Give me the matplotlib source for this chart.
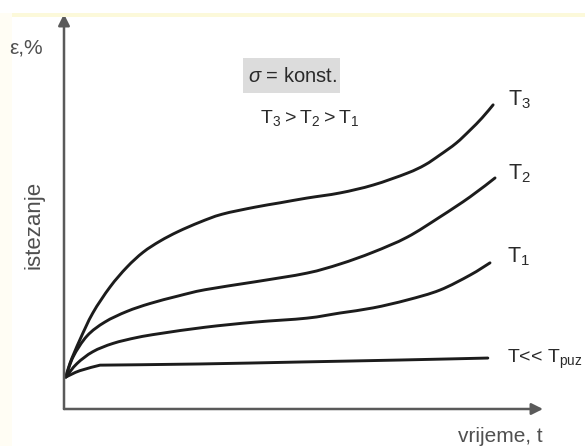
import matplotlib
matplotlib.use("Agg")
import matplotlib.pyplot as plt
from matplotlib.patches import Rectangle, PathPatch
from matplotlib.path import Path

plt.rcParams['font.family'] = ['Liberation Sans', 'DejaVu Sans']
plt.rcParams['mathtext.fontset'] = 'custom'
plt.rcParams['mathtext.rm'] = 'Liberation Sans'
plt.rcParams['mathtext.it'] = 'Liberation Sans:italic'

# ---- data (time t, strain eps) ----
t_low = [0.04, 0.33, 0.75, 2.83, 4.92, 7.0, 8.83]
eps_low = [0.81, 0.97, 1.11, 1.14, 1.19, 1.24, 1.29]

t_T1 = [0.04, 0.27, 0.60, 1.02, 1.52, 2.0, 2.94, 3.98, 5.06, 5.75, 6.44, 7.15, 7.83, 8.46, 8.875]
eps_T1 = [0.81, 1.15, 1.45, 1.66, 1.81, 1.91, 2.07, 2.20, 2.30, 2.43, 2.56, 2.76, 3.01, 3.39, 3.70]

t_T2 = [0.04, 0.19, 0.48, 0.85, 1.31, 1.79, 2.375, 2.94, 3.98, 5.06, 5.75, 6.44, 7.15,
        7.83, 8.46, 8.98]
eps_T2 = [0.81, 1.32, 1.85, 2.20, 2.47, 2.67, 2.86, 3.02, 3.22, 3.44, 3.67, 3.97, 4.35,
          4.86, 5.37, 5.85]

t_T3 = [0.04, 0.125, 0.33, 0.60, 0.96, 1.31, 1.65, 2.0, 2.375, 2.83, 3.29, 3.98, 4.5, 5.06,
        5.75, 6.44, 7.15, 7.52, 7.83, 8.17, 8.46, 8.71, 8.94]
eps_T3 = [0.81, 1.16, 1.75, 2.43, 3.09, 3.59, 3.97, 4.25, 4.49, 4.73, 4.93, 5.11, 5.22, 5.34,
          5.47, 5.67, 5.97, 6.18, 6.43, 6.73, 7.06, 7.37, 7.70]

curve_labels = ["T$_3$", "T$_2$", "T$_1$", r"T<< T$_{\mathrm{puz}}$"]


def smooth_path(xs, ys, corner=None):
    """Catmull-Rom curve through the given data points, as cubic Bezier segments."""
    pts = list(zip(xs, ys))
    verts = [pts[0]]
    codes = [Path.MOVETO]
    n = len(pts)
    for i in range(n - 1):
        p0 = pts[i - 1] if i > 0 else pts[i]
        p1, p2 = pts[i], pts[i + 1]
        p3 = pts[i + 2] if i + 2 < n else pts[i + 1]
        if corner is not None and i + 1 == corner:
            p3 = p2
        if corner is not None and i == corner:
            p0 = p1
        c1 = (p1[0] + (p2[0] - p0[0]) / 6, p1[1] + (p2[1] - p0[1]) / 6)
        c2 = (p2[0] - (p3[0] - p1[0]) / 6, p2[1] - (p3[1] - p1[1]) / 6)
        verts += [c1, c2, p2]
        codes += [Path.CURVE4] * 3
    return Path(verts, codes)


W, H = 585, 446
fig = plt.figure(figsize=(W / 100, H / 100), dpi=100)
fig.patch.set_facecolor('white')

# faint cream frame of the scanned figure
fig.add_artist(Rectangle((12 / W, 1 - 17 / H), 1, 4 / H, transform=fig.transFigure,
                         facecolor='#fcf9da', edgecolor='none'))
fig.add_artist(Rectangle((0, 0), 12 / W, 1 - 13 / H, transform=fig.transFigure,
                         facecolor='#fffdf4', edgecolor='none'))

x0, x1, y0, y1 = 64, 543, 409, 14
ax = fig.add_axes([x0 / W, 1 - y0 / H, (x1 - x0) / W, (y0 - y1) / H])
ax.set_xlim(0, (x1 - x0) / 48)
ax.set_ylim(0, (y0 - y1) / 39.5)
ax.axis('off')

axis_col = '#5a5a5a'
ax.annotate('', xy=(0, 1), xytext=(0, 0), xycoords='axes fraction',
            arrowprops=dict(arrowstyle='-|>', color=axis_col, lw=1.8,
                            mutation_scale=17, shrinkA=0, shrinkB=0))
ax.annotate('', xy=(1, 0), xytext=(0, 0), xycoords='axes fraction',
            arrowprops=dict(arrowstyle='-|>', color=axis_col, lw=1.8,
                            mutation_scale=17, shrinkA=0, shrinkB=0))

lc = '#1c1c1c'
for tt, ee, corner in [(t_low, eps_low, 2), (t_T1, eps_T1, None), (t_T2, eps_T2, None),
                       (t_T3, eps_T3, None)]:
    ax.add_patch(PathPatch(smooth_path(tt, ee, corner), facecolor='none', edgecolor=lc,
                           lw=2.1, capstyle='round', joinstyle='round', clip_on=False))

tc = '#2a2a2a'
ax.text(9.25, 7.82, curve_labels[0], fontsize=15.5, color=tc, va='center', ha='left')
ax.text(9.25, 5.95, curve_labels[1], fontsize=15.5, color=tc, va='center', ha='left')
ax.text(9.23, 3.85, curve_labels[2], fontsize=15.5, color=tc, va='center', ha='left')
ax.text(9.23, 1.25, curve_labels[3], fontsize=14, color=tc, va='center', ha='left',
        clip_on=False)

# box with sigma = konst.
fig.add_artist(Rectangle((243 / W, 1 - 93 / H), 97 / W, 35 / H, transform=fig.transFigure,
                         facecolor='#dcdcdc', edgecolor='none'))
fig.text(292 / W, 1 - 76 / H, r'$\it{\sigma}$ = konst.', fontsize=14.5, color=tc,
         ha='center', va='center')
fig.text(310 / W, 1 - 118 / H, 'T$_3$\u2009>\u2009T$_2$\u2009>\u2009T$_1$', fontsize=14,
         color=tc, ha='center', va='center')

lab = '#505050'
fig.text(26 / W, 1 - 48 / H, 'ε,%', fontsize=15, color=lab, ha='center', va='center')
fig.text(34 / W, 1 - 225 / H, 'istezanje', fontsize=16, color=lab, ha='center',
         va='center', rotation=90)
fig.text(500 / W, 1 - 436 / H, 'vrijeme, t', fontsize=15, color=lab, ha='center',
         va='center')

fig.savefig('out.png', dpi=100)
